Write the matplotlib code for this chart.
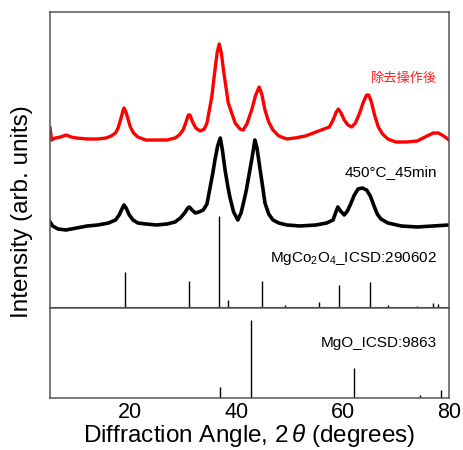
import matplotlib
matplotlib.use('Agg')
import matplotlib.pyplot as plt

plt.rcParams['font.family'] = ['Liberation Sans', 'DejaVu Sans']
plt.rcParams['mathtext.fontset'] = 'custom'
plt.rcParams['mathtext.rm'] = 'Liberation Sans'
plt.rcParams['mathtext.it'] = 'Liberation Sans:italic'

# 除去操作後 (red)
red_x = [5.0, 5.3, 6, 7, 8, 9, 10, 12, 14, 15.5, 16.5, 17.3, 17.8, 18.3, 18.7, 18.9, 19.2, 19.6,
         20.1, 20.7, 21.5, 23, 25, 27, 28.5, 29.3, 30, 30.5, 31.0, 31.3, 31.8, 32.4, 33.2, 34,
         34.5, 35.4, 36.0, 36.4, 36.8, 37.2, 37.6, 38.5, 39.8, 40.7, 41.3, 42.0, 42.9, 43.6,
         44.3, 44.8, 45.4, 46.1, 46.9, 48, 49.5, 51, 53, 55, 56.5, 57.5, 58.2, 58.8, 59.2, 59.7,
         60.3, 61, 61.7, 62.4, 63.2, 63.9, 64.5, 64.9, 65.4, 66, 66.7, 67.5, 68.5, 70, 72, 74,
         75.5, 77, 78, 79, 80]
red_y = [180, 168, 170, 171, 173, 171, 170, 169, 169, 170, 172, 175, 180, 189, 197, 200, 197, 190,
         181, 175, 171, 168, 168, 168, 170, 173, 178, 185, 193, 193, 186, 180, 177, 179,
         185, 211, 238, 255, 264, 255, 238, 205, 185, 179, 178, 184, 198, 212,
         221, 214, 198, 186, 178, 172, 169, 170, 172, 176, 179, 181, 188, 196, 199, 195,
         188, 183, 181, 185, 195, 206, 213, 213, 206, 193, 181, 174, 169, 166, 166, 167,
         171, 175, 175, 172, 168]

# 450°C_45min (black)
blk_x = [5, 5.5, 6.5, 8, 10, 12, 14, 16, 17.3, 18, 18.6, 18.9, 19.3, 19.9, 20.6, 21.5, 23, 25,
         27, 28.5, 29.5, 30.3, 30.9, 31.2, 31.7, 32.3, 33, 33.8, 34.5, 35.1, 35.6, 36.0, 36.5,
         37.0, 37.4, 37.9, 38.4, 38.8, 39.5, 40.3, 40.9, 41.4, 41.9, 42.5, 43.0, 43.5, 43.9,
         44.5, 45.0, 45.4, 46.1, 46.9, 48, 49.5, 52, 55, 57, 58.2, 58.8, 59.1, 59.6, 60.3,
         60.9, 61.5, 62.2, 62.9, 63.7, 64.5, 65.2, 65.9, 66.5, 67.2, 68.5, 71, 74, 77, 80]
blk_y = [86, 82, 79, 78, 80, 82, 83, 85, 88, 93, 100, 103, 100, 93, 88, 85, 84, 83,
         84, 86, 90, 95, 100, 101, 98, 95, 96, 98, 104, 121, 135, 148, 162,
         170, 158, 138, 122, 111, 96, 88, 95, 106, 118, 136, 151, 168, 160,
         138, 120, 105, 94, 88, 85, 83, 82, 83, 85, 88, 97, 101, 97, 93,
         97, 104, 113, 119, 120, 118, 112, 102, 94, 89, 85, 82, 81, 82, 83]

# MgCo2O4 ICSD:290602
spinel_pos = [19.0, 31.2, 36.8, 38.5, 44.8, 49.2, 55.6, 59.3, 65.2, 68.6, 73.9, 77.0, 77.9]
spinel_int = [35, 26, 91, 7, 26, 1.5, 5, 22, 25, 2, 1, 4, 3]

# MgO ICSD:9863
mgo_pos = [36.9, 42.8, 62.2, 74.6, 78.5]
mgo_int = [10.5, 78, 30, 3, 7.5]

fig = plt.figure(figsize=(4.64, 4.5), dpi=100)
ax1 = fig.add_axes([0.1078, 0.3156, 0.86, 0.6577])
ax2 = fig.add_axes([0.1078, 0.1156, 0.86, 0.2])

ax1.plot(red_x, red_y, color='red', lw=2.4)
ax1.plot(blk_x, blk_y, color='black', lw=2.6)
base = 1.2
ax1.axhline(base, color='black', lw=0.8)
ax1.vlines(spinel_pos, base, [base + v for v in spinel_int], color='black', lw=1.0)
ax2.vlines(mgo_pos, 0, mgo_int, color='black', lw=1.0)

ax1.text(77.7, 230, '除去操作後', color='#ff2020', fontsize=9.5, ha='right', va='center',
         family=['Noto Sans CJK JP', 'DejaVu Sans'])
ax1.text(77.7, 136, '450°C_45min', fontsize=11, ha='right', va='center')
ax1.text(77.7, 49, 'MgCo$_2$O$_4$_ICSD:290602', fontsize=11, ha='right', va='center')
ax2.text(77.7, 55, 'MgO_ICSD:9863', fontsize=11, ha='right', va='center')

for ax in (ax1, ax2):
    ax.set_xlim(5, 80)
    ax.set_yticks([])
    for s in ax.spines.values():
        s.set_color('#555555')
        s.set_linewidth(1.1)
ax1.set_ylim(0, 296)
ax2.set_ylim(0, 90)
ax1.set_xticks([])
ax2.set_xticks([20, 40, 60, 80])
ax2.tick_params(axis='x', length=0, pad=3, labelsize=15.5)
ax2.set_xlabel(r'Diffraction Angle, 2$\,\theta$ (degrees)', fontsize=17.5, labelpad=-1)
fig.text(0.048, 0.53, 'Intensity (arb. units)', rotation=90, fontsize=17.5,
         ha='center', va='center')

fig.savefig('out.png', dpi=100)
